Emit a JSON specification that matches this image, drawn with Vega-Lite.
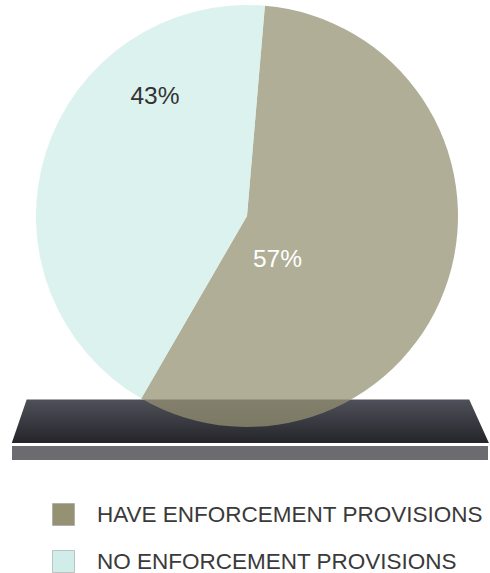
{
  "$schema": "https://vega.github.io/schema/vega-lite/v6.json",
  "width": 490,
  "height": 573,
  "autosize": {"type": "fit", "contains": "padding"},
  "padding": 0,
  "background": "white",
  "config": {"view": {"stroke": null}, "font": "Liberation Sans"},
  "datasets": {
    "share": [
      {"category": "HAVE ENFORCEMENT PROVISIONS", "share": 0.57},
      {"category": "NO ENFORCEMENT PROVISIONS", "share": 0.43}
    ]
  },
  "data": {"name": "share"},
  "encoding": {
    "x": {"type": "quantitative", "scale": {"domain": [0, 490], "nice": false, "zero": false}, "axis": null},
    "y": {"type": "quantitative", "scale": {"domain": [0, 573], "reverse": true, "nice": false, "zero": false}, "axis": null}
  },
  "layer": [
    {
      "data": {"values": [{}]},
      "mark": {
        "type": "point",
        "shape": "M-0.932,-0.0906L0.912,-0.0906L0.994,0.0906L-0.994,0.0906Z",
        "filled": true,
        "opacity": 1,
        "strokeWidth": 0,
        "color": {
          "gradient": "linear", "x1": 0, "y1": 0, "x2": 0, "y2": 1,
          "stops": [{"offset": 0, "color": "#50505a"}, {"offset": 1, "color": "#24242a"}]
        }
      },
      "encoding": {
        "x": {"datum": 250.35, "type": "quantitative"},
        "y": {"datum": 421.25, "type": "quantitative"},
        "size": {"value": 230400}
      }
    },
    {
      "data": {"values": [{}]},
      "mark": {"type": "rect", "color": "#6b6b70"},
      "encoding": {
        "x": {"datum": 12, "type": "quantitative"},
        "x2": {"datum": 488},
        "y": {"datum": 446, "type": "quantitative"},
        "y2": {"datum": 460}
      }
    },
    {
      "mark": {"type": "arc", "outerRadius": 211, "opacity": 0.74},
      "encoding": {
        "theta": {"field": "share", "type": "quantitative", "stack": true, "scale": {"range": [0.085, 6.3682]}},
        "color": {
          "field": "category",
          "type": "nominal",
          "scale": {"domain": ["HAVE ENFORCEMENT PROVISIONS", "NO ENFORCEMENT PROVISIONS"], "range": ["#949273", "#d0ede9"]},
          "legend": {
            "title": null,
            "orient": "none",
            "legendX": 52,
            "legendY": 503,
            "direction": "vertical",
            "symbolType": "square",
            "symbolSize": 484,
            "symbolOpacity": 1,
            "symbolStrokeColor": "#a0a0a0",
            "symbolStrokeWidth": 0.6,
            "labelFont": "Liberation Sans",
            "labelFontSize": 22.5,
            "labelColor": "#3a3a3a",
            "labelOffset": 22,
            "rowPadding": 22,
            "padding": 0,
            "labelLimit": 500
          }
        },
        "x": {"datum": 247, "type": "quantitative"},
        "y": {"datum": 216, "type": "quantitative"}
      }
    },
    {
      "transform": [{"filter": "datum.category === 'NO ENFORCEMENT PROVISIONS'"}],
      "mark": {"type": "text", "fontSize": 24.5, "color": "#333333", "font": "Liberation Sans"},
      "encoding": {
        "text": {"field": "share", "type": "quantitative", "format": ".0%"},
        "x": {"datum": 155, "type": "quantitative"},
        "y": {"datum": 97, "type": "quantitative"}
      }
    },
    {
      "transform": [{"filter": "datum.category === 'HAVE ENFORCEMENT PROVISIONS'"}],
      "mark": {"type": "text", "fontSize": 24.5, "color": "#ffffff", "font": "Liberation Sans"},
      "encoding": {
        "text": {"field": "share", "type": "quantitative", "format": ".0%"},
        "x": {"datum": 277.5, "type": "quantitative"},
        "y": {"datum": 260, "type": "quantitative"}
      }
    }
  ]
}
